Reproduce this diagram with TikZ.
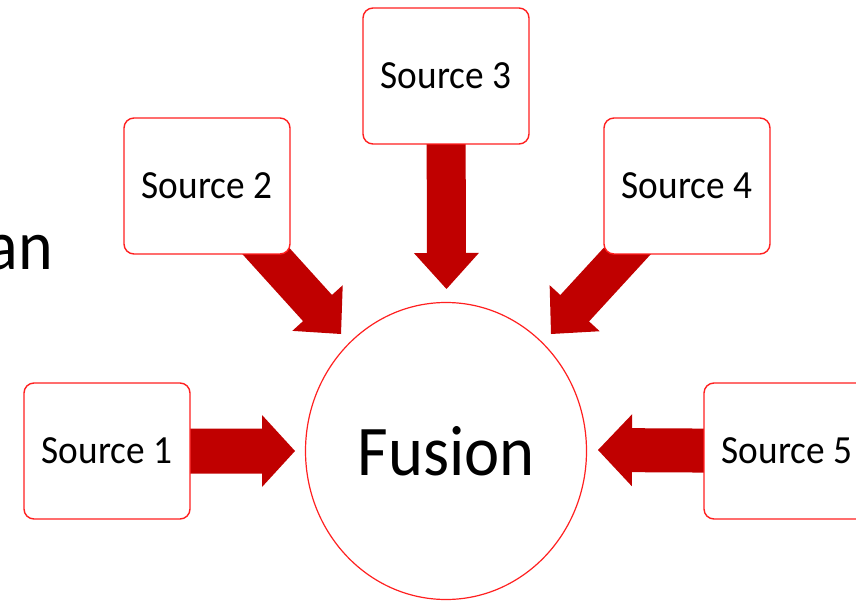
\documentclass[tikz,border=0pt]{standalone}
\usepackage{fontspec}
\setmainfont{Carlito}
\usetikzlibrary{calc,backgrounds,shapes.geometric}

\definecolor{boxline}{HTML}{FF2020}
\definecolor{arrowfill}{HTML}{C00000}

\tikzset{
  srcbox/.style={draw=boxline, line width=1.4pt, fill=white, rounded corners=10pt,
    minimum width=166pt, minimum height=136pt, inner sep=0pt,
    font=\fontsize{37.3}{40}\selectfont},
  hub/.style={draw=boxline, line width=1.2pt, fill=white, ellipse, inner sep=0pt,
    minimum width=281pt, minimum height=297pt,
    font=\fontsize{66.6}{70}\selectfont},
}

% tall text: the lettering is slightly stretched vertically
\newcommand{\tallt}[1]{\scalebox{1}[1.07]{#1}}

% block arrow: #1 start, #2 tip, #3 shaft half width, #4 head half width, #5 head length
\newcommand{\blockarrow}[5]{%
  \coordinate (hb) at ($(#2)!#5!(#1)$);
  \fill[arrowfill]
    ($(#1)!#3!90:(#2)$) -- ($(hb)!#3!90:(#2)$) -- ($(hb)!#4!90:(#2)$) -- (#2)
    -- ($(hb)!#4!-90:(#2)$) -- ($(hb)!#3!-90:(#2)$) -- ($(#1)!#3!-90:(#2)$) -- cycle;
}

\begin{document}
\begin{tikzpicture}[x=1pt, y=-1pt]
  \useasboundingbox (0,0) rectangle (856,601);
  \clip (0,0) rectangle (856,601);

  % fragment of surrounding text
  \node[anchor=base east, inner sep=0pt, font=\fontsize{66}{70}\selectfont] (frag) at (53,270) {\tallt{an}};

  % sources
  \node[srcbox] (s1) at (107,451) {\tallt{Source 1}};
  \node[srcbox] (s2) at (207,186) {\tallt{Source 2}};
  \node[srcbox] (s3) at (446,76)  {\tallt{Source 3}};
  \node[srcbox] (s4) at (687,186) {\tallt{Source 4}};
  \node[srcbox] (s5) at (787,451) {\tallt{Source 5}};

  % fusion hub
  \node[hub] (fus) at (446,451) {\tallt{Fusion}};

  % arrow tips just outside the hub
  \coordinate (t1) at (295,451);
  \coordinate (t2) at (341,334);
  \coordinate (t3) at (446.5,289);
  \coordinate (t4) at (551,334);
  \coordinate (t5) at (598,450);

  \begin{scope}[on background layer]
    \blockarrow{s1.center}{t1}{22.5pt}{36pt}{33pt}
    \blockarrow{s2.center}{t2}{19.5pt}{34pt}{35pt}
    \blockarrow{s3.center}{t3}{19.5pt}{32.5pt}{36pt}
    \blockarrow{s4.center}{t4}{19.5pt}{34pt}{35pt}
    \blockarrow{s5.center}{t5}{22pt}{36pt}{34pt}
  \end{scope}
\end{tikzpicture}
\end{document}
